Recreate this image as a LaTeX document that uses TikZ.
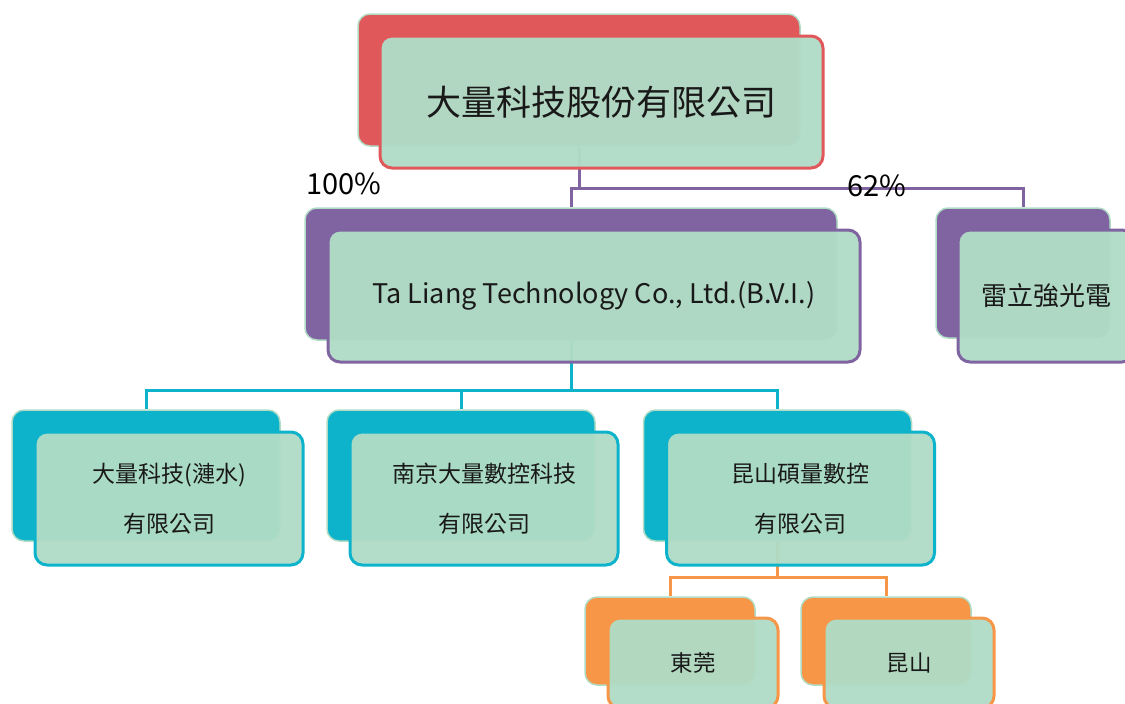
\documentclass[tikz,border=0pt]{standalone}
\usepackage{fontspec}
\setmainfont{Noto Sans CJK TC}
\usepackage{tikz}
\usetikzlibrary{backgrounds}
\usetikzlibrary{calc}
\definecolor{cardgreen}{HTML}{B0DCC6}
\definecolor{topred}{HTML}{E0585A}
\definecolor{purp}{HTML}{8064A2}
\definecolor{tealc}{HTML}{0DB3CB}
\definecolor{orng}{HTML}{F79646}
\tikzset{cardback/.style={draw=cardgreen,line width=1.5pt,fill=#1,rounded corners=12pt,inner sep=0pt},
card/.style={draw=#1,line width=3pt,fill=cardgreen,fill opacity=0.96,text opacity=1,rounded corners=12pt,align=center,inner sep=0pt,text=black!90},
link/.style={draw=#1,line width=3pt}}

\begin{document}
\begin{tikzpicture}[x=1pt,y=-1pt]
\useasboundingbox (0,0) rectangle (1125,704);

\node (topb) at (579,80) [cardback=topred, minimum width=442pt, minimum height=132pt] {};
\node (topf) at (601.5,102) [card=topred, minimum width=443pt, minimum height=132pt, font=\fontsize{35}{40}\selectfont] {大量科技股份有限公司};

\node (tlb) at (571,274) [cardback=purp, minimum width=532pt, minimum height=132pt] {};
\node (tlf) at (594,296) [card=purp, minimum width=532pt, minimum height=132pt, font=\fontsize{27}{30}\selectfont] {Ta Liang Technology Co., Ltd.(B.V.I.)};

\node (leib) at (1023,273) [cardback=purp, minimum width=174pt, minimum height=130pt] {};
\node (leif) at (1046,296) [card=purp, minimum width=176pt, minimum height=132pt, font=\fontsize{26}{30}\selectfont] {雷立強光電};

\node (p100) at (344,184) [font=\fontsize{29}{32}\selectfont] {100\%};
\node (p62) at (877,186) [font=\fontsize{29}{32}\selectfont] {62\%};

\foreach \n/\x/\txt in {1/146/{大量科技(漣水)\\有限公司}, 2/461/{南京大量數控科技\\有限公司}, 3/777.5/{昆山碩量數控\\有限公司}} {
\node (sb\n) at (\x,475.5) [cardback=tealc, minimum width=268pt, minimum height=131pt] {};
\node (sf\n) at (\x+23,498.5) [card=tealc, minimum width=268pt, minimum height=133pt, font=\fontsize{23}{50}\selectfont] {\txt};
}

\foreach \n/\x/\txt in {1/670/東莞, 2/886/昆山} {
\node (fb\n) at (\x,641) [cardback=orng, minimum width=170pt, minimum height=88pt] {};
\node (ff\n) at (\x+23,663) [card=orng, minimum width=170pt, minimum height=90pt, font=\fontsize{22.5}{26}\selectfont] {\txt};
}

\begin{scope}[on background layer]
\draw[link=purp] (topb.south) -- ++(0,42) coordinate (j1) -| (tlb.north);
\draw[link=purp] (j1) -| (leib.north);
\draw[link=tealc] (tlb.south) -- ++(0,50) coordinate (j2) -| (sb1.north);
\draw[link=tealc] (j2) -| (sb2.north);
\draw[link=tealc] (j2) -| (sb3.north);
\draw[link=orng] (sb3.south) -- ++(0,36) coordinate (j3) -| (fb1.north);
\draw[link=orng] (j3) -| (fb2.north);
\end{scope}
\end{tikzpicture}
\end{document}
